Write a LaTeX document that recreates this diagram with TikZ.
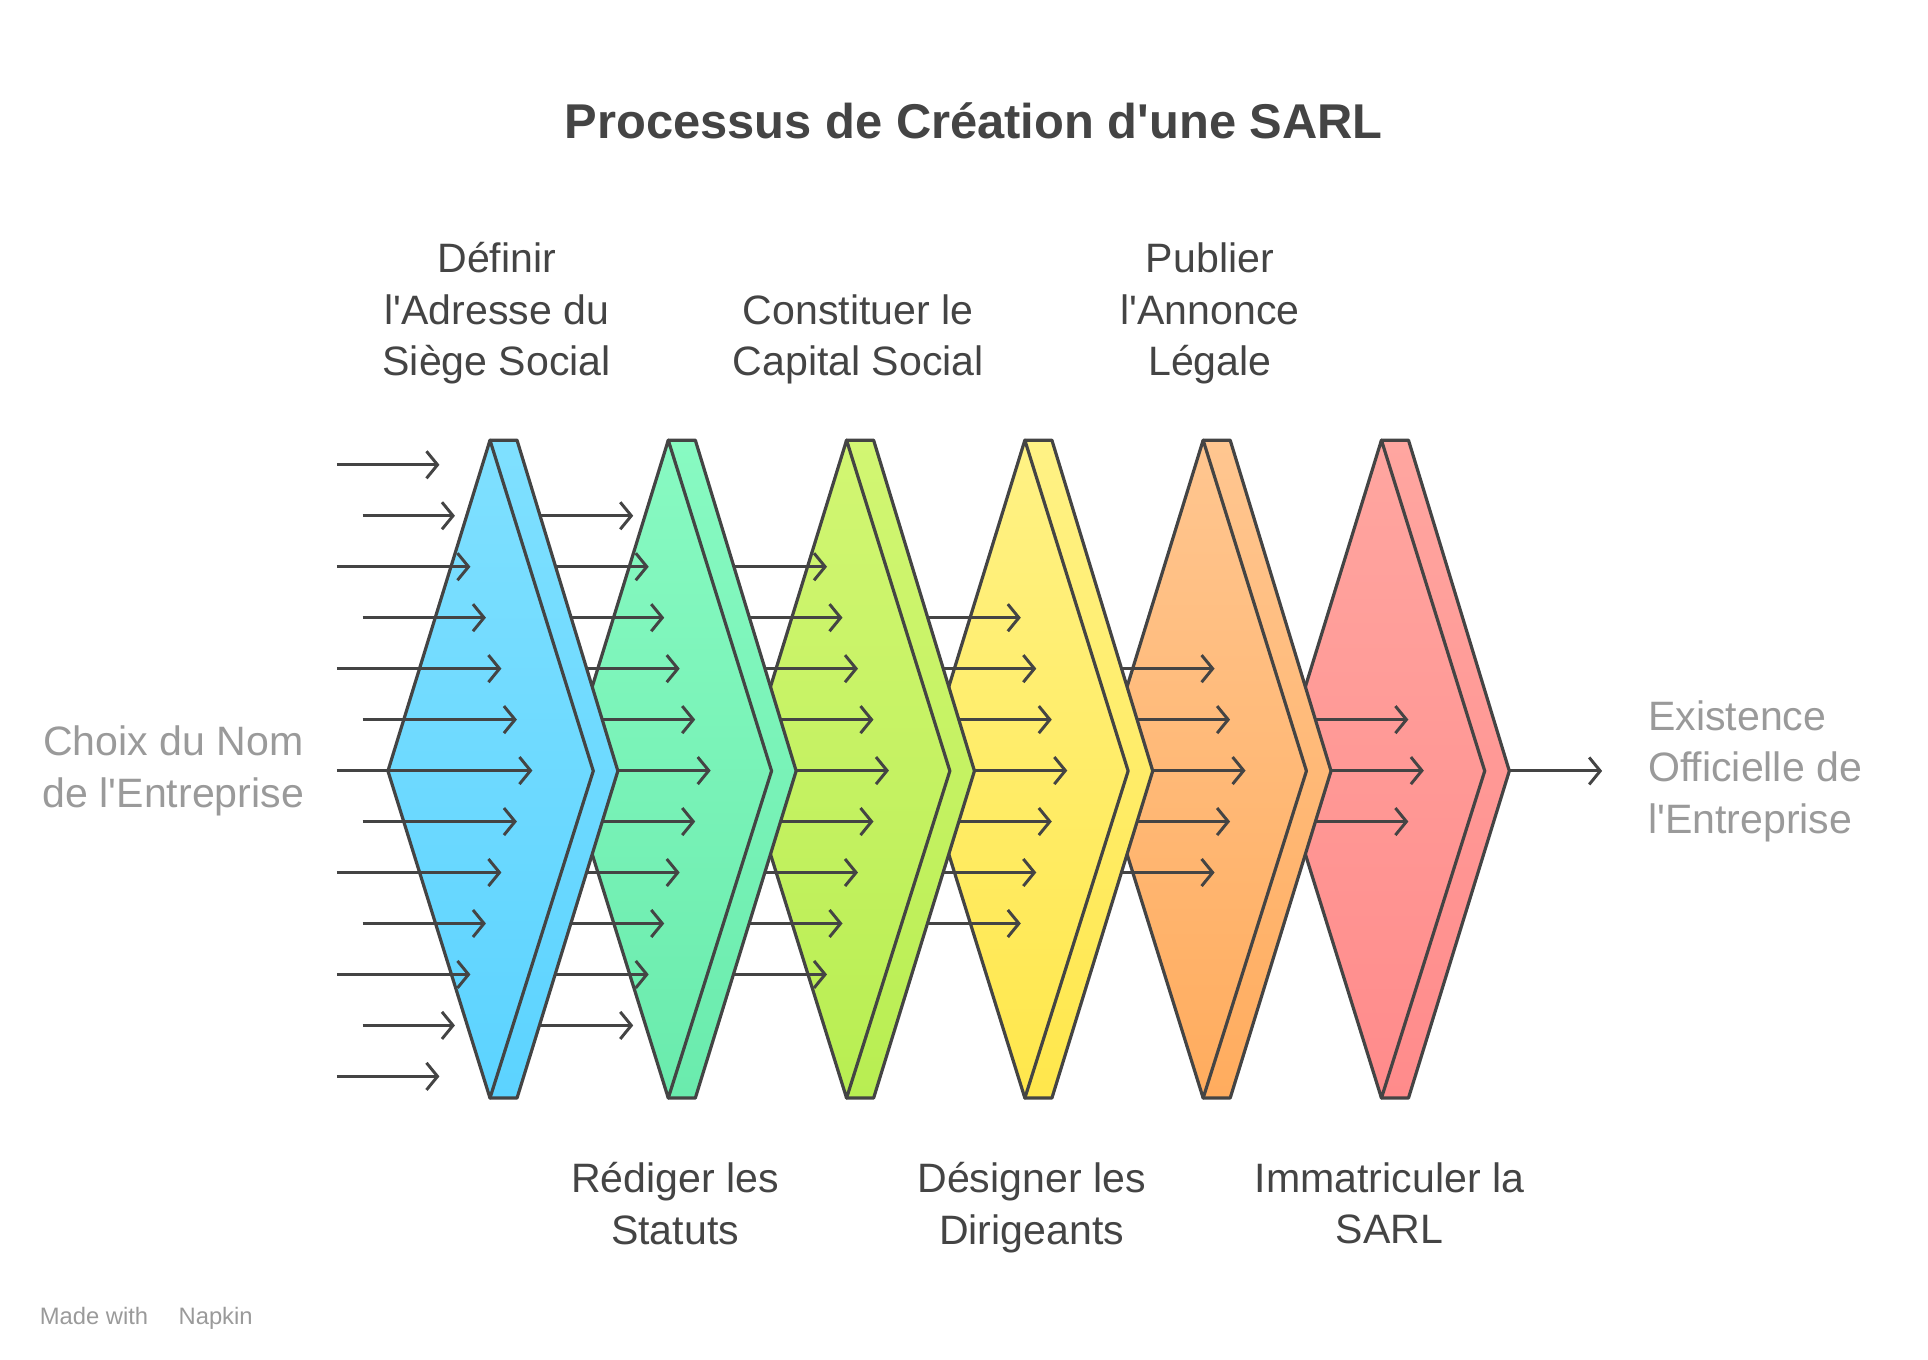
\documentclass[tikz,border=0pt]{standalone}
\usepackage{fontspec}
\setmainfont{Liberation Sans}[Ligatures=TeXOff]
\usetikzlibrary{arrows.meta}
\definecolor{inkgray}{HTML}{444444}
\definecolor{softgray}{HTML}{9A9A9A}
\definecolor{chevAtop}{HTML}{7FE0FF}\definecolor{chevAbot}{HTML}{5CD3FF}
\definecolor{chevBtop}{HTML}{88FAC2}\definecolor{chevBbot}{HTML}{6AEBAD}
\definecolor{chevCtop}{HTML}{D2F673}\definecolor{chevCbot}{HTML}{B8EE52}
\definecolor{chevDtop}{HTML}{FFF285}\definecolor{chevDbot}{HTML}{FFE74C}
\definecolor{chevEtop}{HTML}{FFC690}\definecolor{chevEbot}{HTML}{FFAC5E}
\definecolor{chevFtop}{HTML}{FFA6A0}\definecolor{chevFbot}{HTML}{FF8B8B}
\tikzset{
  edge/.style={draw=inkgray, line width=0.026cm, line join=round},
  flow/.style={draw=inkgray, line width=0.024cm, -{Straight Barb[length=0.09cm,width=0.22cm]}},
  steplabel/.style={text=inkgray, font=\fontsize{9.5}{11.9}\selectfont, align=center},
  endlabel/.style={text=softgray, font=\fontsize{9.5}{11.9}\selectfont},
}
\begin{document}
\begin{tikzpicture}[x=0.01cm, y=-0.01cm]
    \useasboundingbox (0,0) rectangle (1568,1106);

    % chevrons, drawn right to left with their arrow bundles
    \foreach \k/\c in {6/chevF,5/chevE,4/chevD,3/chevC,2/chevB,1/chevA} {
        \pgfmathsetmacro\xt{398.5+145*(\k-1)}
        \pgfmathtruncatemacro\jmin{\k-1}
        \pgfmathtruncatemacro\jmax{13-\k}
        \draw[edge, top color=\c top, bottom color=\c bot]
            (\xt,358) -- ++(22,0) -- (\xt+104,627) -- (\xt+22,893) -- (\xt,893) -- cycle;
        \draw[edge, top color=\c top, bottom color=\c bot]
            (\xt,358) -- (\xt+84,627) -- (\xt,893) -- (\xt-83,627) -- cycle;
        \foreach \j in {\jmin,...,\jmax} {
            \pgfmathsetmacro\yy{378+41.45*\j}
            \pgfmathsetmacro\xe{\xt+34.5-12.6*abs(\j-6)}
            \ifnum\k=1
                \pgfmathsetmacro\xs{iseven(\j) ? 274 : 295}
            \else
                \pgfmathsetmacro\xs{\xt-105}
            \fi
            \draw[flow] (\xs,\yy) -- (\xe,\yy);
        }
    }
    \coordinate (tip) at (1227,627);
    \coordinate (goal) at (1303,627);
    \draw[flow] (tip) -- (goal);

    % Labels
    \node[font=\bfseries\fontsize{11.3}{13}\selectfont, text=inkgray] (title) at (792,98) {Processus de Création d'une SARL};
    \node[steplabel] (s1) at (404,255) {Définir\\l'Adresse du\\Siège Social};
    \node[steplabel] (s3) at (698,276) {Constituer le\\Capital Social};
    \node[steplabel] (s5) at (984,255) {Publier\\l'Annonce\\Légale};
    \node[steplabel, anchor=north] (s2) at (549,933) {Rédiger les\\Statuts};
    \node[steplabel, anchor=north] (s4) at (839,933) {Désigner les\\Dirigeants};
    \node[steplabel, anchor=north] (s6) at (1130,933) {Immatriculer la\\SARL};
    \node[endlabel, align=center] (start) at (141,627) {Choix du Nom\\de l'Entreprise};
    \node[endlabel, align=left, anchor=west] (finish) at (1328,627) {Existence\\Officielle de\\l'Entreprise};
    \node[text=softgray, font=\fontsize{5.5}{6}\selectfont, anchor=west] (brand) at (20,1072) {Made with \quad Napkin};
\end{tikzpicture}
\end{document}
